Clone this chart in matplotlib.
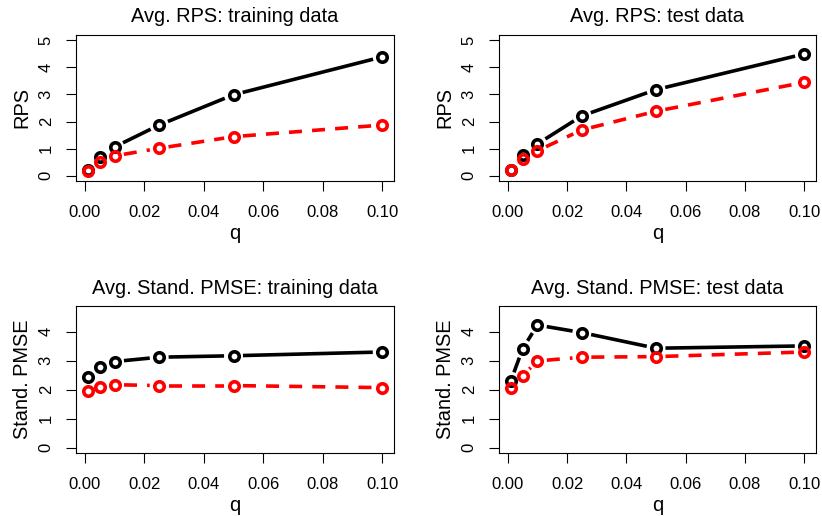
import numpy as np
import matplotlib
matplotlib.use("Agg")
import matplotlib.pyplot as plt

plt.rcParams['font.family'] = ['Liberation Sans', 'DejaVu Sans']

q = [0.001, 0.005, 0.01, 0.025, 0.05, 0.1]

# black = solid series, red = dashed series
rps_train_black = [0.20, 0.68, 1.06, 1.87, 2.99, 4.39]
rps_train_red = [0.18, 0.50, 0.73, 1.01, 1.44, 1.87]
rps_test_black = [0.20, 0.75, 1.17, 2.21, 3.18, 4.50]
rps_test_red = [0.20, 0.61, 0.92, 1.69, 2.38, 3.45]
pmse_train_black = [2.43, 2.78, 2.97, 3.12, 3.17, 3.30]
pmse_train_red = [1.97, 2.08, 2.17, 2.14, 2.14, 2.07]
pmse_test_black = [2.29, 3.41, 4.23, 3.97, 3.43, 3.51]
pmse_test_red = [2.07, 2.48, 2.99, 3.12, 3.14, 3.30]

titles = ["Avg. RPS: training data", "Avg. RPS: test data",
          "Avg. Stand. PMSE: training data", "Avg. Stand. PMSE: test data"]
ylabels = ["RPS", "RPS", "Stand. PMSE", "Stand. PMSE"]

W, H = 822, 516
fig = plt.figure(figsize=(W / 100, H / 100), dpi=100)

# pixel boxes (left, right, top, bottom)
boxes = [(76, 394, 35, 181), (499, 816, 35, 181),
         (76, 394, 306, 453), (499, 816, 306, 453)]

LW = 2.6      # line width in points
GAP = 6.8     # gap around points (type="b"), points


def draw_b(ax, x, y, color, dashed):
    # lines with gaps around the points, like R's type="b"
    gap_px = GAP * fig.dpi / 72.0
    pts = ax.transData.transform(np.column_stack([x, y]))
    inv = ax.transData.inverted()
    for i in range(len(pts) - 1):
        p0, p1 = pts[i], pts[i + 1]
        d = p1 - p0
        L = np.hypot(*d)
        if L <= 2 * gap_px:
            continue
        u = d / L
        a = inv.transform(p0 + u * gap_px)
        b = inv.transform(p1 - u * gap_px)
        ls = (0, (3.6, 2.8)) if dashed else '-'
        ax.plot([a[0], b[0]], [a[1], b[1]], color=color, lw=LW,
                linestyle=ls, solid_capstyle='butt', dash_capstyle='butt')
    ax.plot(x, y, linestyle='none', marker='o', ms=6.8, mew=LW,
            mfc='none', mec=color)


series = [(rps_train_black, rps_train_red), (rps_test_black, rps_test_red),
          (pmse_train_black, pmse_train_red), (pmse_test_black, pmse_test_red)]

for k in range(4):
    l, r, t, b = boxes[k]
    ax = fig.add_axes([l / W, 1 - b / H, (r - l) / W, (b - t) / H])
    ext = 0.04 * (q[-1] - q[0])
    ax.set_xlim(q[0] - ext, q[-1] + ext)
    if k < 2:
        ax.set_ylim(-0.2, 5.2)
        ax.set_yticks([0, 1, 2, 3, 4, 5])
    else:
        ax.set_ylim(-0.188, 4.888)
        ax.set_yticks([0, 1, 2, 3, 4])
    ax.set_xticks([0.0, 0.02, 0.04, 0.06, 0.08, 0.10])
    ax.set_xticklabels(["0.00", "0.02", "0.04", "0.06", "0.08", "0.10"])
    for s in ax.spines.values():
        s.set_linewidth(0.8)
    ax.tick_params(direction='out', length=7, width=0.8, labelsize=12, pad=10)
    ax.tick_params(axis='y', pad=9)
    for lab in ax.get_yticklabels():
        lab.set_rotation(90)
        lab.set_va('center')
    ax.set_title(titles[k], fontsize=14.4, pad=9)
    ax.set_xlabel("q", fontsize=14.4, labelpad=3)
    ax.set_ylabel(ylabels[k], fontsize=14.4, labelpad=5)

    blk, red = series[k]
    draw_b(ax, q, blk, 'black', False)
    draw_b(ax, q, red, '#ff0000', True)

fig.savefig("out.png", dpi=100)
